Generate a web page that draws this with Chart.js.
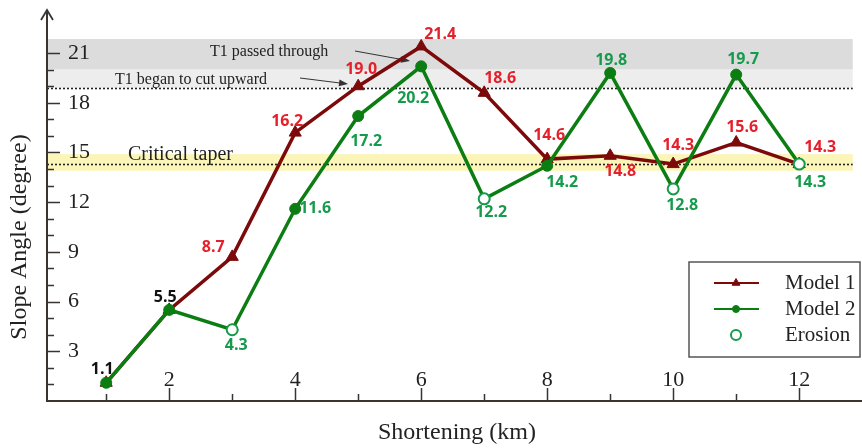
<!DOCTYPE html>
<html>
<head>
<meta charset="utf-8">
<script src="https://cdn.jsdelivr.net/npm/chart.js@4.4.0/dist/chart.umd.min.js"></script>
<style>
  html, body { margin: 0; padding: 0; background: #fff; }
  #wrap { width: 862px; height: 448px; }
</style>
</head>
<body>
<div id="wrap"><canvas id="myChart"></canvas></div>
<script>
// slope angle vs shortening for the two sandbox models
const shortening = [1, 2, 3, 4, 5, 6, 7, 8, 9, 10, 11, 12];
const model1 = [1.1, 5.5, 8.7, 16.2, 19.0, 21.4, 18.6, 14.6, 14.8, 14.3, 15.6, 14.3];
const model2 = [1.1, 5.5, 4.3, 11.6, 17.2, 20.2, 12.2, 14.2, 19.8, 12.8, 19.7, 14.3];
const erosionAt = [3, 7, 10, 12];   // model 2 steps with erosion
const xTickLabels = [2, 4, 6, 8, 10, 12];
const yTickLabels = [3, 6, 9, 12, 15, 18, 21];

// reference levels
const criticalTaper = 14.3;
const criticalBand = [13.9, 14.9];
const cutUpward = 18.9;
const passedBand = [20, 21.85];

const RED_LINE = '#7c0a0a';
const GREEN_LINE = '#0b7d12';
const RED_TEXT = '#e5202b';
const GREEN_TEXT = '#169a4c';
const AXIS = '#3a3431';
const SERIF = '"Liberation Serif", "Times New Roman", serif';
const SANS = '"Open Sans", "Noto Sans", sans-serif';

// label offsets (px) from each point
const off1 = [[-4,-13],[-4,-12],[-19,-9],[-8,-11],[3,-17],[19,-12],[16,-14],[2,-24],[10,16],[5,-19],[6,-15],[21,-17]];
const off2 = [null,null,[4,16],[20,0],[8,25],[-8,32],[7,14],[15,17],[1,-13],[9,17],[7,-15],[11,18]];

// both models share the first steps, those get one black label
let sharedSteps = 0;
while (model1[sharedSteps] === model2[sharedSteps]) sharedSteps++;

const pts = arr => arr.map((v, i) => ({x: shortening[i], y: v}));

function arrow(ctx, x1, y1, x2, y2) {
    const a = Math.atan2(y2 - y1, x2 - x1);
    ctx.beginPath();
    ctx.moveTo(x1, y1);
    ctx.lineTo(x2 - Math.cos(a) * 6, y2 - Math.sin(a) * 6);
    ctx.stroke();
    ctx.beginPath();
    ctx.moveTo(x2, y2);
    ctx.lineTo(x2 - Math.cos(a) * 9 - Math.sin(a) * 3.5, y2 - Math.sin(a) * 9 + Math.cos(a) * 3.5);
    ctx.lineTo(x2 - Math.cos(a) * 9 + Math.sin(a) * 3.5, y2 - Math.sin(a) * 9 - Math.cos(a) * 3.5);
    ctx.closePath();
    ctx.fill();
}

const decor = {
    id: 'decor',
    beforeDraw(chart) {
        // bands go under the tick labels
        const {ctx, chartArea: a, scales: {x, y}} = chart;
        const x0 = a.left, x1 = x.getPixelForValue(12.85);
        const band = (lo, hi, color) => {
            const t = y.getPixelForValue(hi), b = y.getPixelForValue(lo);
            ctx.fillStyle = color;
            ctx.fillRect(x0, t, x1 - x0, b - t);
        };
        ctx.save();
        band(passedBand[0], passedBand[1], '#dcdcdc');
        band(cutUpward, passedBand[0], '#ededed');
        band(criticalBand[0], criticalBand[1], '#fbf5b8');

        ctx.setLineDash([2, 2]);
        ctx.lineWidth = 1.6;
        ctx.strokeStyle = '#222';
        [cutUpward, criticalTaper].forEach(v => {
            const py = Math.round(y.getPixelForValue(v)) + 0.5;
            ctx.beginPath();
            ctx.moveTo(x0, py);
            ctx.lineTo(x1, py);
            ctx.stroke();
        });
        ctx.setLineDash([]);

        ctx.fillStyle = '#222';
        ctx.textBaseline = 'middle';
        ctx.textAlign = 'left';
        ctx.font = '16px ' + SERIF;
        ctx.fillText('T1 passed through', 210, 52);
        ctx.fillText('T1 began to cut upward', 115, 80);
        ctx.font = '20px ' + SERIF;
        ctx.fillText('Critical taper', 128, 155);

        ctx.strokeStyle = '#333';
        ctx.fillStyle = '#333';
        ctx.lineWidth = 1;
        arrow(ctx, 355, 51, 410, 61);
        arrow(ctx, 300, 78, 348, 84);
        ctx.restore();
    },
    afterDatasetsDraw(chart) {
        const {ctx} = chart;
        const m1 = chart.getDatasetMeta(0).data;
        const m2 = chart.getDatasetMeta(1).data;
        ctx.save();
        ctx.font = 'bold 16px ' + SANS;
        ctx.textAlign = 'center';
        ctx.textBaseline = 'middle';
        model1.forEach((v, i) => {
            ctx.fillStyle = i < sharedSteps ? '#111' : RED_TEXT;
            ctx.fillText(v.toFixed(1), m1[i].x + off1[i][0], m1[i].y + off1[i][1]);
        });
        model2.forEach((v, i) => {
            if (i < sharedSteps) return;
            ctx.fillStyle = GREEN_TEXT;
            ctx.fillText(v.toFixed(1), m2[i].x + off2[i][0], m2[i].y + off2[i][1]);
        });
        ctx.restore();
    },
    afterDraw(chart) {
        const {ctx, chartArea: a, scales: {x, y}} = chart;
        ctx.save();
        ctx.strokeStyle = AXIS;
        ctx.lineWidth = 2;
        // axes, the x axis runs to the canvas edge
        ctx.beginPath();
        ctx.moveTo(a.left, a.top + 1);
        ctx.lineTo(a.left, a.bottom);
        ctx.lineTo(chart.width, a.bottom);
        ctx.stroke();
        // open arrow head on the y axis
        ctx.lineWidth = 1.8;
        ctx.beginPath();
        ctx.moveTo(a.left - 6, a.top + 10);
        ctx.lineTo(a.left, a.top);
        ctx.lineTo(a.left + 6, a.top + 10);
        ctx.stroke();
        // tick marks pointing inwards
        ctx.lineWidth = 1.5;
        ctx.beginPath();
        x.ticks.forEach(t => {
            if (t.value < 1 || t.value > 12) return;
            const px = Math.round(x.getPixelForValue(t.value)) + 0.5;
            const len = xTickLabels.includes(t.value) ? 13 : 7;
            ctx.moveTo(px, a.bottom);
            ctx.lineTo(px, a.bottom - len);
        });
        y.ticks.forEach(t => {
            if (t.value < 1 || t.value > 21) return;
            const py = Math.round(y.getPixelForValue(t.value)) + 0.5;
            const len = yTickLabels.includes(t.value) ? 13 : 7;
            ctx.moveTo(a.left, py);
            ctx.lineTo(a.left + len, py);
        });
        ctx.stroke();

        // axis titles
        ctx.fillStyle = '#222';
        ctx.font = '24px ' + SERIF;
        ctx.textAlign = 'center';
        ctx.textBaseline = 'middle';
        ctx.fillText('Shortening (km)', 457, 433);
        ctx.translate(20, 237);
        ctx.rotate(-Math.PI / 2);
        ctx.fillText('Slope Angle (degree)', 0, 0);
        ctx.restore();

        // legend
        ctx.save();
        const lx = 689, ly = 262, lw = 171, lh = 95;
        ctx.fillStyle = '#fff';
        ctx.fillRect(lx, ly, lw, lh);
        ctx.strokeStyle = '#555';
        ctx.lineWidth = 1.5;
        ctx.strokeRect(lx, ly, lw, lh);
        const ds = chart.data.datasets;
        const rows = [283, 309, 335];
        ctx.font = '21px ' + SERIF;
        ctx.textAlign = 'left';
        ctx.textBaseline = 'middle';
        ds.forEach((d, k) => {
            const ry = rows[k];
            if (d.showLine !== false) {
                ctx.strokeStyle = d.borderColor;
                ctx.lineWidth = 2;
                ctx.beginPath();
                ctx.moveTo(714, ry);
                ctx.lineTo(759, ry);
                ctx.stroke();
            }
            ctx.fillStyle = d.pointBackgroundColor;
            ctx.strokeStyle = d.pointBorderColor;
            ctx.lineWidth = k === 2 ? 2 : 1;
            Chart.helpers.drawPoint(ctx, {pointStyle: d.pointStyle, radius: k === 0 ? 4.5 : (k === 1 ? 3.5 : 5), borderWidth: ctx.lineWidth, rotation: 0}, 736, ry);
            ctx.fillStyle = '#222';
            ctx.fillText(d.label, 785, ry);
        });
        ctx.restore();
    }
};

new Chart(document.getElementById('myChart'), {
    type: 'line',
    data: {
        datasets: [{
            label: 'Model 1',
            data: pts(model1),
            borderColor: RED_LINE,
            borderWidth: 3.5,
            pointStyle: 'triangle',
            pointRadius: 7,
            pointBackgroundColor: RED_LINE,
            pointBorderColor: RED_LINE,
            pointBorderWidth: 1,
            order: 3
        }, {
            label: 'Model 2',
            data: pts(model2),
            borderColor: GREEN_LINE,
            borderWidth: 3.5,
            pointStyle: 'circle',
            pointRadius: 5.5,
            pointBackgroundColor: GREEN_LINE,
            pointBorderColor: GREEN_LINE,
            pointBorderWidth: 1,
            order: 2
        }, {
            label: 'Erosion',
            data: erosionAt.map(k => ({x: k, y: model2[shortening.indexOf(k)]})),
            showLine: false,
            borderColor: GREEN_TEXT,
            pointStyle: 'circle',
            pointRadius: 5.5,
            pointBackgroundColor: '#fff',
            pointBorderColor: GREEN_TEXT,
            pointBorderWidth: 2,
            order: 1
        }]
    },
    options: {
        responsive: true,
        maintainAspectRatio: false,
        animation: false,
        layout: {padding: {top: 10, left: 0, right: 0, bottom: 0}},
        plugins: {legend: {display: false}, tooltip: {enabled: false}},
        scales: {
            x: {
                type: 'linear',
                min: 0.06,
                max: 12.87,
                grid: {display: false, drawTicks: false},
                border: {display: false},
                ticks: {
                    stepSize: 1,
                    includeBounds: false,
                    autoSkip: false,
                    maxRotation: 0,
                    mirror: true,
                    padding: 8,
                    color: '#222',
                    font: {family: SERIF, size: 22},
                    callback: v => xTickLabels.includes(v) ? String(v) : ''
                },
                afterFit: s => {
                    s.height = 47;
                    s.paddingLeft = 0;
                    s.paddingRight = 0;
                }
            },
            y: {
                type: 'linear',
                min: 0,
                max: 23.6,
                grid: {display: false, drawTicks: false},
                border: {display: false},
                ticks: {
                    stepSize: 1,
                    includeBounds: false,
                    autoSkip: false,
                    mirror: true,
                    padding: 21,
                    color: '#222',
                    font: {family: SERIF, size: 22},
                    callback: v => yTickLabels.includes(v) ? String(v) : ''
                },
                afterFit: s => {
                    s.width = 47;
                    s.paddingTop = 0;
                    s.paddingBottom = 0;
                }
            }
        }
    },
    plugins: [decor]
});
</script>
</body>
</html>
